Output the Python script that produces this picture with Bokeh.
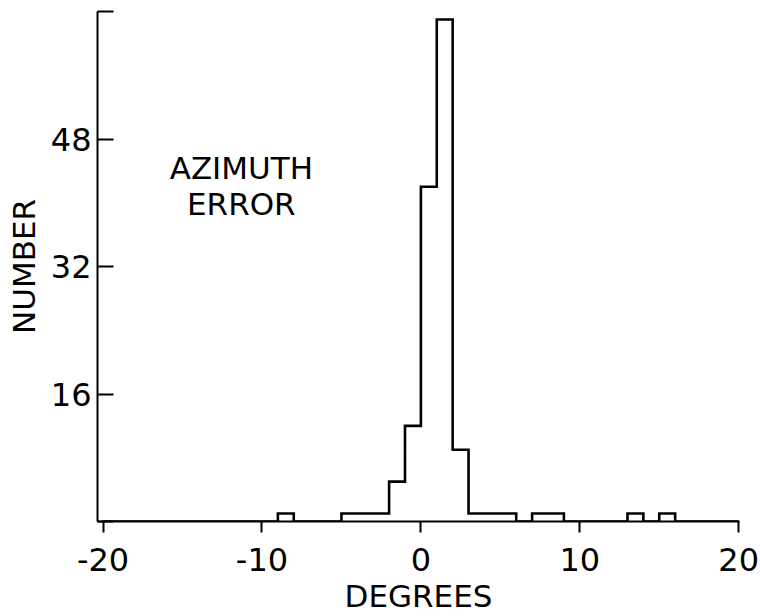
from bokeh.plotting import figure
from bokeh.models import Range1d, FixedTicker, Label, ColumnDataSource
from bokeh.embed import file_html
from bokeh.resources import INLINE

# ---- data ----
bin_left = [-9, -5, -4, -3, -2, -1, 0, 1, 2, 3, 4, 5, 7, 8, 13, 15]
counts = [1, 1, 1, 1, 5, 12, 42, 63, 9, 1, 1, 1, 1, 1, 1, 1]
bin_width = 1
x_ticks = [-20, -10, 0, 10, 20]
x_tick_labels = ["-20", "-10", "0", "10", "20"]
y_ticks = [0, 16, 32, 48, 64]
y_tick_labels = ["", "16", "32", "48", ""]
x_title = "DEGREES"
y_title = "NUMBER"
note_lines = ["AZIMUTH", "ERROR"]

FONT = "DejaVu Sans"

# outline of the histogram (step path over the whole axis, zero bins on the baseline)
full = {}
for l, c in zip(bin_left, counts):
    full[l] = c
xs, ys = [], []
for l in range(-20, 20):
    c = full.get(l, 0)
    xs += [l, l + bin_width]
    ys += [c, c]
xs = [-20] + xs + [20]
ys = [0] + ys + [0]
src = ColumnDataSource(dict(x=xs, y=ys))

p = figure(width=760, height=616, output_backend="svg", toolbar_location=None,
           x_range=Range1d(-20.35, 20.05), y_range=Range1d(0, 64),
           min_border_left=97, min_border_right=21, min_border_top=11, min_border_bottom=95)
p.outline_line_color = None
p.xgrid.visible = False
p.ygrid.visible = False
p.background_fill_color = "white"
p.border_fill_color = "white"

p.line("x", "y", source=src, line_color="black", line_width=2.6, line_join="miter")

# axes
xa = p.xaxis[0]
xa.ticker = FixedTicker(ticks=x_ticks)
xa.major_label_overrides = {t: s for t, s in zip(x_ticks, x_tick_labels)}
xa.minor_tick_line_color = None
xa.major_tick_in = 0
xa.major_tick_out = 11
xa.axis_line_width = 2
xa.major_tick_line_width = 2
xa.axis_line_color = "black"
xa.major_tick_line_color = "black"
xa.major_label_text_color = "black"
xa.major_label_text_font = FONT
xa.major_label_text_font_size = "32px"
xa.major_label_standoff = 15
xa.axis_label = x_title
xa.axis_label_text_color = "black"
xa.axis_label_text_font = FONT
xa.axis_label_text_font_style = "normal"
xa.axis_label_text_font_size = "31px"
xa.axis_label_standoff = 4

ya = p.yaxis[0]
ya.ticker = FixedTicker(ticks=y_ticks)
ya.major_label_overrides = {t: s for t, s in zip(y_ticks, y_tick_labels)}
ya.minor_tick_line_color = None
ya.major_tick_in = 16
ya.major_tick_out = 0
ya.axis_line_width = 2
ya.major_tick_line_width = 2
ya.axis_line_color = "black"
ya.major_tick_line_color = "black"
ya.major_label_text_color = "black"
ya.major_label_text_font = FONT
ya.major_label_text_font_size = "32px"
ya.major_label_standoff = 6
ya.axis_label = y_title
ya.axis_label_text_color = "black"
ya.axis_label_text_font = FONT
ya.axis_label_text_font_style = "normal"
ya.axis_label_text_font_size = "31px"
ya.axis_label_standoff = 6

for txt, yv in zip(note_lines, [44.4, 39.9]):
    p.add_layout(Label(x=-11.3, y=yv, text=txt, text_align="center", text_baseline="alphabetic",
                       text_font=FONT, text_font_size="31px", text_color="black"))

open("out.html", "w").write(file_html(p, INLINE))
